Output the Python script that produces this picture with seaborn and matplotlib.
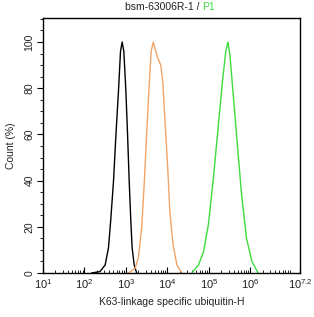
import matplotlib
matplotlib.use("Agg")
import matplotlib.pyplot as plt
import matplotlib.ticker as mticker
import numpy as np
import seaborn as sns

# curves: x as log10(intensity), y as count (%)
black_log = [2.17, 2.375, 2.50, 2.58, 2.63, 2.70, 2.76, 2.82, 2.87, 2.91,
             2.95, 3.00, 3.04, 3.08, 3.12, 3.15, 3.20, 3.26]
black_pct = [0, 0.6, 3.5, 11, 22, 39.5, 60, 78.5, 96, 100,
             96, 78.5, 60, 39.5, 22, 11, 3.5, 0]

orange_log = [3.06, 3.22, 3.30, 3.38, 3.44, 3.50, 3.56, 3.61, 3.66, 3.72,
              3.77, 3.84, 3.89, 3.94, 4.01, 4.06, 4.14, 4.23, 4.35]
orange_pct = [0, 2, 6.5, 19.5, 38, 60, 81, 96, 100, 96,
              93, 90, 83, 67, 45, 26.5, 12, 3.5, 0]

green_log = [4.59, 4.75, 4.87, 4.99, 5.11, 5.23, 5.33, 5.41, 5.46, 5.51,
             5.59, 5.69, 5.79, 5.91, 6.04, 6.19]
green_pct = [0, 3.5, 9, 21, 41, 64, 83, 96, 100, 94.4,
             77, 55.4, 34, 15, 5, 0]

x_ticks = [1, 2, 3, 4, 5, 6, 7.2]
x_tick_labels = ["$10^{1}$", "$10^{2}$", "$10^{3}$", "$10^{4}$",
                 "$10^{5}$", "$10^{6}$", "$10^{7.2}$"]
y_ticks = [0, 20, 40, 60, 80, 100]

sns.set_style("white")
plt.rcParams["font.family"] = ["Liberation Sans", "DejaVu Sans"]
plt.rcParams["mathtext.fontset"] = "custom"
plt.rcParams["mathtext.rm"] = "Liberation Sans"
plt.rcParams["mathtext.it"] = "Liberation Sans"
plt.rcParams["mathtext.default"] = "regular"

fig = plt.figure(figsize=(3.14, 3.17), dpi=100)
ax = fig.add_axes([43 / 314, 1 - 273 / 317, 257 / 314, 255 / 317])

curves = [(black_log, black_pct, "black"),
          (orange_log, orange_pct, "#F0A468"),
          (green_log, green_pct, "#3EDC3E")]
for xs, ys, col in curves:
    sns.lineplot(x=10 ** np.array(xs), y=ys, color=col, linewidth=1.0,
                 sort=False, ax=ax)

ax.set_xscale("log")
ax.set_xlim(10, 10 ** 7.2)
ax.set_ylim(0, 110.4)

ax.set_xticks([10 ** t for t in x_ticks])
ax.set_xticklabels(x_tick_labels)
ax.xaxis.set_minor_locator(mticker.LogLocator(base=10, subs=np.arange(2, 10),
                                              numticks=20))
ax.xaxis.set_minor_formatter(mticker.NullFormatter())
ax.tick_params(axis="x", which="both", bottom=True, top=False)
ax.tick_params(axis="x", which="major", direction="in", length=4, width=0.8,
               labelsize=8, pad=3, colors="black", labelcolor="#222222")
ax.tick_params(axis="x", which="minor", direction="in", length=2, width=0.6,
               colors="black")

ax.set_yticks(y_ticks)
ax.set_yticklabels([str(v) for v in y_ticks], rotation=90, va="center")
ax.yaxis.set_minor_locator(mticker.MultipleLocator(5))
ax.tick_params(axis="y", which="both", left=True, right=False)
ax.tick_params(axis="y", which="major", direction="out", length=4, width=0.8,
               labelsize=7.5, pad=2, colors="black", labelcolor="#222222")
ax.tick_params(axis="y", which="minor", direction="out", length=2, width=0.6,
               colors="black")

for s in ax.spines.values():
    s.set_color("black")
    s.set_linewidth(1.0)

ax.set_xlabel("K63-linkage specific ubiquitin-H", fontsize=7.5,
              color="#222222", labelpad=4)
ax.set_ylabel("Count (%)", fontsize=7.5, color="#222222", labelpad=6)

fig.text(0.645, 0.978, "bsm-63006R-1 / ", fontsize=7.5,
         color="#222222", ha="right", va="center")
fig.text(0.645, 0.978, "P1", fontsize=7.5, color="#3EDC3E",
         ha="left", va="center")

fig.savefig("out.png", dpi=100)
